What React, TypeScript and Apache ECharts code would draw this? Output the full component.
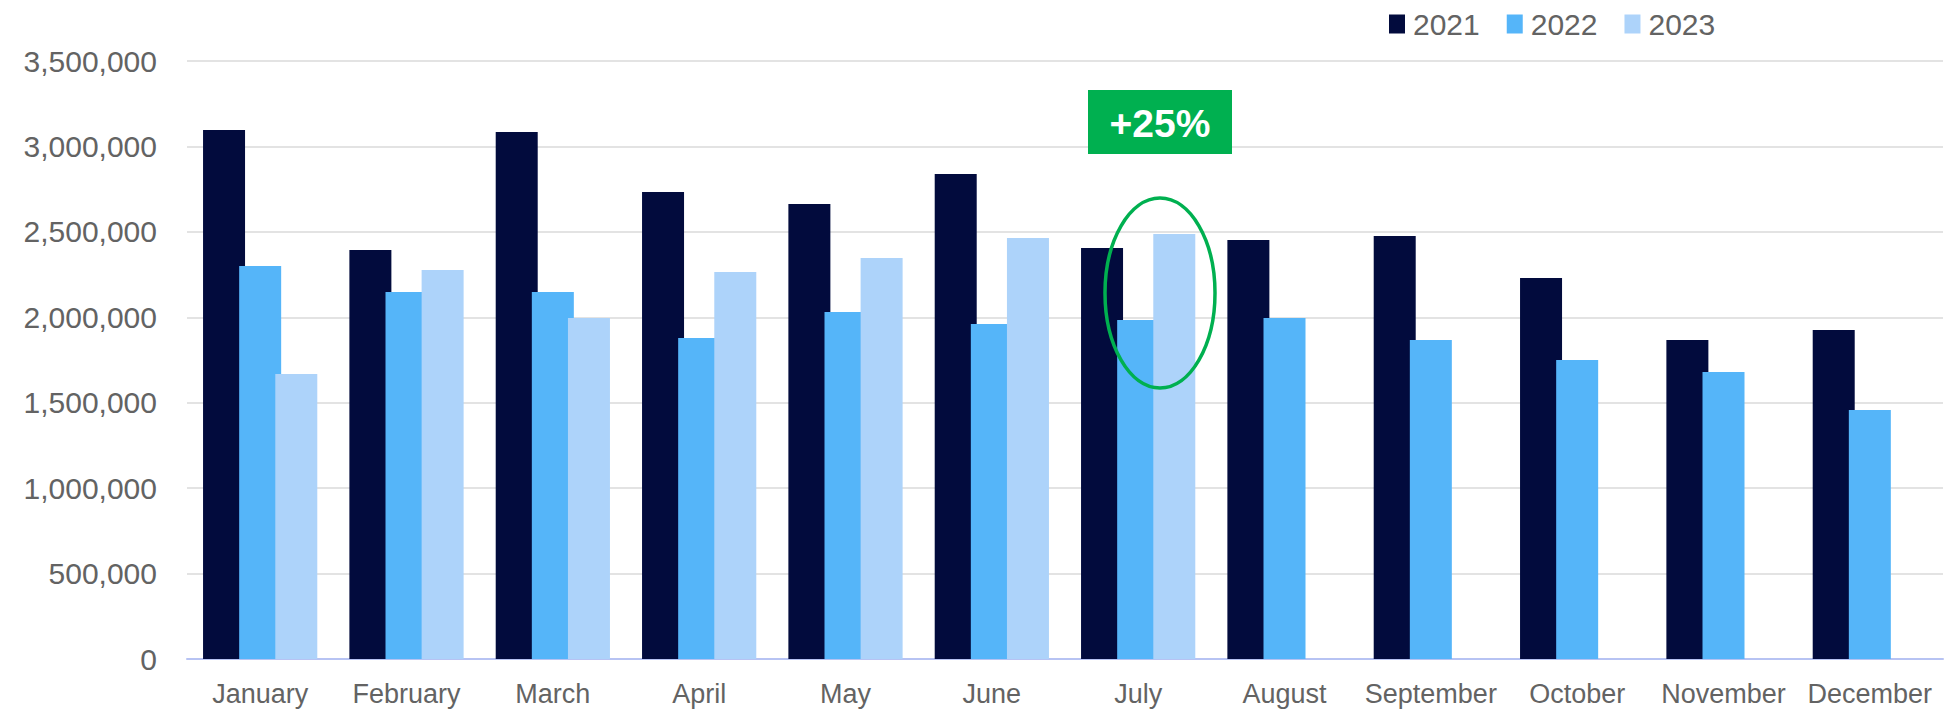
import React, { useEffect, useRef } from "react";
import * as echarts from "echarts";

const months = [
  "January", "February", "March", "April", "May", "June",
  "July", "August", "September", "October", "November", "December",
];
const series2021 = [3096000, 2394000, 3084000, 2733000, 2663000, 2839000, 2405000, 2452000, 2476000, 2230000, 1867000, 1926000];
const series2022 = [2300000, 2148000, 2148000, 1879000, 2031000, 1961000, 1984000, 1996000, 1867000, 1750000, 1680000, 1457000];
const series2023 = [1668000, 2277000, 1996000, 2265000, 2347000, 2464000, 2487000, null, null, null, null, null];
const yearNames = ["2021", "2022", "2023"];
const yearColors = ["#020B3D", "#55B5F9", "#ADD3FA"];
const annotationText = "+25%";

const textColor = "#636363";
const fontFamily = "'Liberation Sans', Arial, sans-serif";

export default function App() {
  const ref = useRef<HTMLDivElement>(null);
  useEffect(() => {
    if (!ref.current) return;
    const chart = echarts.init(ref.current, undefined, { renderer: "svg" });
    const datasets = [series2021, series2022, series2023];
    chart.setOption({
      animation: false,
      backgroundColor: "#ffffff",
      textStyle: { fontFamily },
      legend: {
        left: 1384,
        top: 3,
        itemWidth: 16,
        itemHeight: 19,
        itemGap: 27,
        icon: "rect",
        data: yearNames,
        textStyle: { color: textColor, fontSize: 30, fontFamily, padding: [0, 0, 0, 3], lineHeight: 32 },
      },
      grid: {
        left: 187,
        right: 8,
        top: 61,
        height: 598,
        containLabel: false,
        outerBoundsMode: "none",
      },
      xAxis: {
        type: "category",
        data: months,
        axisLine: { show: true, lineStyle: { color: "#B7C3F3", width: 2 } },
        axisTick: { show: false },
        axisLabel: { color: textColor, fontSize: 27, fontFamily, margin: 21, interval: 0 },
      },
      yAxis: {
        type: "value",
        min: 0,
        max: 3500000,
        interval: 500000,
        axisLine: { show: false },
        axisTick: { show: false },
        splitLine: { lineStyle: { color: "#E3E3E3", width: 2 } },
        axisLabel: {
          color: textColor,
          fontSize: 30,
          fontFamily,
          margin: 30,
          formatter: (v: number) => v.toLocaleString("en-US"),
        },
      },
      series: datasets.map((d, i) => ({
        name: yearNames[i],
        type: "bar",
        data: d,
        barWidth: 42,
        barGap: "-14%",
        itemStyle: { color: yearColors[i] },
      })),
      graphic: [
        {
          type: "rect",
          shape: { x: 1088, y: 90, width: 144, height: 64 },
          style: { fill: "#00B050" },
          z: 100,
        },
        {
          type: "text",
          x: 1160,
          y: 123,
          style: {
            text: annotationText,
            fill: "#ffffff",
            font: `bold 39px ${fontFamily}`,
            align: "center",
            verticalAlign: "middle",
          },
          z: 101,
        },
        {
          type: "ellipse",
          shape: { cx: 1160, cy: 293, rx: 55, ry: 95 },
          style: { fill: "none", stroke: "#00B050", lineWidth: 3.5 },
          z: 100,
        },
      ],
    });
    return () => chart.dispose();
  }, []);
  return <div ref={ref} style={{ width: 1951, height: 711, position: "absolute", left: 0, top: 0 }} />;
}
